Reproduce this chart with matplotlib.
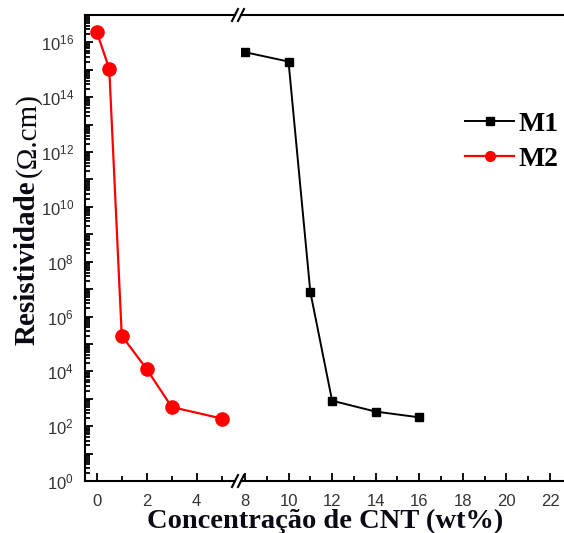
import numpy as np
import matplotlib.pyplot as plt
from matplotlib.lines import Line2D
from matplotlib.ticker import LogLocator, MultipleLocator, FuncFormatter, NullFormatter

plt.rcParams['mathtext.fontset'] = 'custom'
plt.rcParams['mathtext.rm'] = 'Liberation Sans'
plt.rcParams['font.family'] = 'Liberation Sans'

# resistivity vs CNT loading (wt%)
m1_x = [8, 10, 11, 12, 14, 16]
m1_y = [4.4e15, 2.0e15, 8.0e6, 8.5e2, 3.4e2, 2.1e2]
m2_x = [0, 0.5, 1, 2, 3, 5]
m2_y = [2.4e16, 1.1e15, 2.0e5, 1.2e4, 5.0e2, 1.9e2]

W, H = 564, 533
fig = plt.figure(figsize=(W / 100, H / 100), dpi=100)


def px(x0, y0, x1, y1):
    # pixel box -> figure fraction [left, bottom, width, height]
    return [x0 / W, 1 - y1 / H, (x1 - x0) / W, (y1 - y0) / H]


ax1 = fig.add_axes(px(85, 15, 235, 481))
ax2 = fig.add_axes(px(241, 15, 564, 481), sharey=ax1)

ax2.plot(m1_x, m1_y, '-', color='black', lw=1.4, marker='s', ms=6, label='M1')
ax1.plot(m2_x, m2_y, '-', color='#ff0000', lw=1.6, marker='o', ms=9.5, label='M2')
# keep both series in the legend on the right panel
ax2.plot([], [], '-', color='#ff0000', lw=1.6, marker='o', ms=7, label='M2')

ax1.set_yscale('log')
ax1.set_ylim(1, 1e17)
ax1.set_xlim(-0.47, 5.53)
ax2.set_xlim(7.82, 22.64)


def sci(v, pos):
    e = int(round(np.log10(v)))
    return r'$\mathregular{10^{%d}}$' % e if e % 2 == 0 else ''


ax1.yaxis.set_major_locator(LogLocator(base=10, numticks=30))
ax1.yaxis.set_minor_locator(LogLocator(base=10, subs=np.arange(2, 10), numticks=30))
ax1.yaxis.set_major_formatter(FuncFormatter(sci))
ax1.yaxis.set_minor_formatter(NullFormatter())

for ax in (ax1, ax2):
    ax.xaxis.set_major_locator(MultipleLocator(2))
    ax.xaxis.set_minor_locator(MultipleLocator(1))
    ax.tick_params(which='both', direction='in', width=1.3, colors='black',
                   labelcolor='#333333', labelsize=12)
    ax.tick_params(which='major', length=6, pad=6)
    ax.tick_params(which='minor', length=3.5)
    ax.tick_params(axis='x', which='both', top=False, pad=9)
    for s in ax.spines.values():
        s.set_linewidth(1.5)
    ax.spines['right'].set_visible(False)

ax1.tick_params(axis='y', which='major', pad=8)
ax2.spines['left'].set_visible(False)
ax2.tick_params(axis='y', which='both', left=False, labelleft=False)

# break marks on the top and bottom spines
for yb in (15, 481):
    for xb in (235, 241):
        fig.add_artist(Line2D([(xb - 3) / W, (xb + 3) / W],
                              [1 - (yb + 6) / H, 1 - (yb - 6) / H],
                              color='black', lw=1.5, transform=fig.transFigure))

leg = ax2.legend(loc='upper left', bbox_to_anchor=(0.66, 0.817), frameon=False,
                 prop={'family': 'Liberation Serif', 'weight': 'bold', 'size': 20},
                 handlelength=1.75, handletextpad=0.15, labelspacing=0.35,
                 borderaxespad=0)

fig.text(0.576, 1 - 528 / H, 'Concentração de CNT (wt%)', ha='center', va='baseline',
         family='Liberation Serif', weight='bold', fontsize=20.5, color='#0a0a14')
fig.text(35 / W, 1 - 345 / H, 'Resistividade', rotation=90, rotation_mode='anchor',
         ha='left', va='baseline',
         family='Liberation Serif', weight='bold', fontsize=21, color='#0a0a14')
fig.text(35 / W, 1 - 177 / H, '(Ω.cm)', rotation=90, rotation_mode='anchor',
         ha='left', va='baseline',
         family='Liberation Serif', fontsize=21, color='#0a0a14')

fig.savefig('out.png', dpi=100)
